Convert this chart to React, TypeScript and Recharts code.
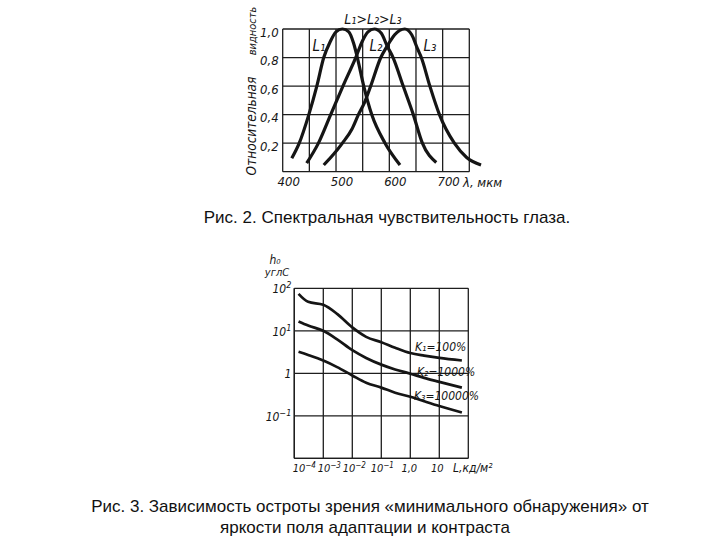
import React from 'react';
import { LineChart, Line, XAxis, YAxis, CartesianGrid, ReferenceLine } from 'recharts';

// ---- Рис. 2: spectral sensitivity ----
const l1Wavelength = [417, 431, 449, 464, 477, 489, 500, 512, 524, 533, 540, 552, 567, 592, 620];
const l1Visibility = [0.094, 0.2, 0.4, 0.6, 0.8, 0.91, 0.98, 1.0, 0.98, 0.9, 0.8, 0.6, 0.4, 0.2, 0.047];
const l2Wavelength = [445, 467, 490, 513, 537, 550, 560, 572, 585, 596, 607, 626, 645, 662, 688];
const l2Visibility = [0.06, 0.2, 0.4, 0.6, 0.8, 0.92, 0.98, 1.0, 0.97, 0.88, 0.8, 0.6, 0.4, 0.2, 0.065];
const l3Wavelength = [477, 495, 512, 530, 542, 554, 565, 584, 596, 610, 629, 642, 653, 660, 676, 694, 722, 745, 772];
const l3Visibility = [0.047, 0.12, 0.2, 0.3, 0.4, 0.49, 0.6, 0.8, 0.88, 0.96, 1.0, 0.96, 0.86, 0.8, 0.6, 0.4, 0.2, 0.1, 0.047];
const spectrumXTicks = [400, 450, 500, 550, 600, 650, 700, 750];
const spectrumXLabels: Record<number, string> = { 400: '400', 500: '500', 600: '600', 700: '700' };
const spectrumYTicks = [0, 0.2, 0.4, 0.6, 0.8, 1.0];
const spectrumYLabels: Record<string, string> = { '0.2': '0,2', '0.4': '0,4', '0.6': '0,6', '0.8': '0,8', '1': '1,0' };

// ---- Рис. 3: acuity vs luminance ----
const luminance = [1.4e-4, 3e-4, 1e-3, 3e-3, 1e-2, 3e-2, 0.1, 0.3, 1, 3, 10, 60];
const acuityK1 = [74, 48, 41, 25, 12, 7.2, 5.4, 4.0, 3.0, 2.6, 2.3, 2.0];
const acuityK2 = [16.6, 13.3, 10, 6.3, 3.5, 2.3, 1.6, 1.23, 0.98, 0.78, 0.63, 0.46];
const acuityK3 = [3.2, 2.7, 2.0, 1.4, 0.89, 0.6, 0.46, 0.35, 0.28, 0.22, 0.17, 0.12];
const lumTicks = [1e-4, 1e-3, 1e-2, 1e-1, 1, 10, 100];
const lumBase = ['10', '10', '10', '10', '1,0', '10', ''];
const lumExp = ['−4', '−3', '−2', '−1', '', '', ''];
const acuityTicks = [0.01, 0.1, 1, 10, 100];
const acuityBase = ['', '10', '1', '10', '10'];
const acuityExp = ['', '−1', '', '1', '2'];

const FONT = '"DejaVu Sans Condensed", "DejaVu Sans", sans-serif';
const CAPTION_FONT = '"Liberation Sans", Arial, sans-serif';
const INK = '#151515';
const GRID = '#1e1e1e';

const l1Data = l1Wavelength.map((x, i) => ({ x, y: l1Visibility[i] }));
const l2Data = l2Wavelength.map((x, i) => ({ x, y: l2Visibility[i] }));
const l3Data = l3Wavelength.map((x, i) => ({ x, y: l3Visibility[i] }));
const acuityData = luminance.map((x, i) => ({ x, k1: acuityK1[i], k2: acuityK2[i], k3: acuityK3[i] }));

function SpecXTick(props: any) {
  const { x, y, payload } = props;
  const label = spectrumXLabels[payload.value] ?? '';
  return (
    <text x={x + 6} y={y} dy="0.71em" textAnchor="middle" fontFamily={FONT} fontStyle="italic" fontSize={13} fill={INK}>
      {label}
    </text>
  );
}

function SpecYTick(props: any) {
  const { x, y, payload } = props;
  const label = spectrumYLabels[String(payload.value)] ?? '';
  return (
    <text x={x} y={y + 3} dy="0.35em" textAnchor="end" fontFamily={FONT} fontStyle="italic" fontSize={13} fill={INK}>
      {label}
    </text>
  );
}

function findTick(ticks: number[], v: number) {
  return ticks.findIndex((t) => Math.abs(Math.log10(t) - Math.log10(v)) < 1e-6);
}

const lumDx = [10, 6, 2, 1, -1, -2, 0];
function LumXTick(props: any) {
  const { x, y, payload } = props;
  const i = findTick(lumTicks, payload.value);
  if (i < 0 || !lumBase[i]) return null;
  return (
    <text x={x + lumDx[i]} y={y + 10} textAnchor="middle" fontFamily={FONT} fontStyle="italic" fontSize={11} fill={INK}>
      {lumBase[i]}
      {lumExp[i] ? <tspan dy={-4} fontSize={8}>{lumExp[i]}</tspan> : null}
    </text>
  );
}

function AcuityYTick(props: any) {
  const { x, y, payload } = props;
  const i = findTick(acuityTicks, payload.value);
  if (i < 0 || !acuityBase[i]) return null;
  return (
    <text x={x} y={y + 5} textAnchor="end" fontFamily={FONT} fontStyle="italic" fontSize={12} fill={INK}>
      {acuityBase[i]}
      {acuityExp[i] ? <tspan dy={-5} fontSize={9}>{acuityExp[i]}</tspan> : null}
    </text>
  );
}

export default function App() {
  const italic = { fontFamily: FONT, fontStyle: 'italic' as const, fill: INK };
  return (
    <div style={{ position: 'absolute', left: 0, top: 0, width: 720, height: 540, background: '#fff', overflow: 'hidden' }}>
      <div style={{ position: 'absolute', left: 0, top: 0 }}>
        <LineChart width={720} height={200} margin={{ top: 29, right: 234.7, bottom: 8.3, left: 242.7 }}>
          <XAxis
            type="number"
            dataKey="x"
            domain={[400, 780]}
            ticks={spectrumXTicks}
            interval={0}
            axisLine={false}
            tickLine={false}
            tickSize={0}
            tickMargin={5}
            height={20}
            tick={<SpecXTick />}
          />
          <YAxis
            type="number"
            domain={[0, 1]}
            ticks={spectrumYTicks}
            interval={0}
            width={40}
            axisLine={false}
            tickLine={false}
            tickSize={0}
            tickMargin={4}
            tick={<SpecYTick />}
          />
          {spectrumYTicks.map((v) => (
            <ReferenceLine
              key={'h' + v}
              segment={[{ x: 400, y: v }, { x: 750, y: v }]}
              stroke={GRID}
              strokeWidth={1.3}
            />
          ))}
          {spectrumXTicks.map((v) => (
            <ReferenceLine
              key={'v' + v}
              segment={[{ x: v, y: 0 }, { x: v, y: 1 }]}
              stroke={GRID}
              strokeWidth={1.3}
            />
          ))}
          <Line data={l1Data} dataKey="y" type="monotone" stroke={INK} strokeWidth={3.2} dot={false} isAnimationActive={false} />
          <Line data={l2Data} dataKey="y" type="monotone" stroke={INK} strokeWidth={3.2} dot={false} isAnimationActive={false} />
          <Line data={l3Data} dataKey="y" type="monotone" stroke={INK} strokeWidth={3.2} dot={false} isAnimationActive={false} />
        </LineChart>
      </div>

      <div style={{ position: 'absolute', left: 0, top: 240 }}>
        <LineChart width={720} height={240} data={acuityData} margin={{ top: 48.3, right: 251.7, bottom: 1.7, left: 254.3 }}>
          <CartesianGrid stroke={GRID} strokeWidth={1.3} />
          <XAxis
            type="number"
            dataKey="x"
            scale="log"
            domain={[1e-4, 100]}
            ticks={lumTicks}
            interval={0}
            axisLine={{ stroke: GRID, strokeWidth: 1.3 }}
            tickLine={false}
            tickSize={0}
            tickMargin={4}
            height={20}
            tick={<LumXTick />}
          />
          <YAxis
            type="number"
            scale="log"
            domain={[0.01, 100]}
            ticks={acuityTicks}
            interval={0}
            width={40}
            axisLine={{ stroke: GRID, strokeWidth: 1.3 }}
            tickLine={false}
            tickSize={0}
            tickMargin={3}
            tick={<AcuityYTick />}
          />
          <Line dataKey="k1" type="monotone" stroke={INK} strokeWidth={2.7} dot={false} isAnimationActive={false} />
          <Line dataKey="k2" type="monotone" stroke={INK} strokeWidth={2.7} dot={false} isAnimationActive={false} />
          <Line dataKey="k3" type="monotone" stroke={INK} strokeWidth={2.7} dot={false} isAnimationActive={false} />
        </LineChart>
      </div>

      <svg width={720} height={540} style={{ position: 'absolute', left: 0, top: 0, pointerEvents: 'none' }}>
        {/* Рис. 2 annotations */}
        <text x={373} y={24} textAnchor="middle" fontSize={14} {...italic}>L₁&gt;L₂&gt;L₃</text>
        <text x={319} y={51} textAnchor="middle" fontSize={15} {...italic}>L₁</text>
        <text x={376} y={51} textAnchor="middle" fontSize={15} {...italic}>L₂</text>
        <text x={430} y={51} textAnchor="middle" fontSize={15} {...italic}>L₃</text>
        <text x={256} y={31} textAnchor="middle" fontSize={11} transform="rotate(-90 256 31)" {...italic}>видность</text>
        <text x={256} y={126} textAnchor="middle" fontSize={13.5} transform="rotate(-90 256 126)" {...italic}>Относительная</text>
        <text x={463} y={187} fontSize={13} {...italic}>λ, мкм</text>

        {/* Рис. 3 annotations */}
        <text x={275} y={264} textAnchor="middle" fontSize={12} {...italic}>h₀</text>
        <text x={277} y={276} textAnchor="middle" fontSize={11} {...italic}>углС</text>
        <text x={453} y={472} fontSize={12} {...italic}>L,кд/м²</text>
        <text x={415} y={351} fontSize={12} {...italic}>K₁=100%</text>
        <text x={417} y={376} fontSize={12} {...italic}>K₂=1000%</text>
        <text x={414} y={400} fontSize={12} {...italic}>K₃=10000%</text>

        {/* captions */}
        <text x={387} y={223} textAnchor="middle" fontSize={17} fontFamily={CAPTION_FONT} fill="#111">
          Рис. 2. Спектральная чувствительность глаза.
        </text>
        <text x={370} y={512} textAnchor="middle" fontSize={17} fontFamily={CAPTION_FONT} fill="#111">
          Рис. 3. Зависимость остроты зрения «минимального обнаружения» от
        </text>
        <text x={365} y={533} textAnchor="middle" fontSize={17} fontFamily={CAPTION_FONT} fill="#111">
          яркости поля адаптации и контраста
        </text>
      </svg>
    </div>
  );
}
